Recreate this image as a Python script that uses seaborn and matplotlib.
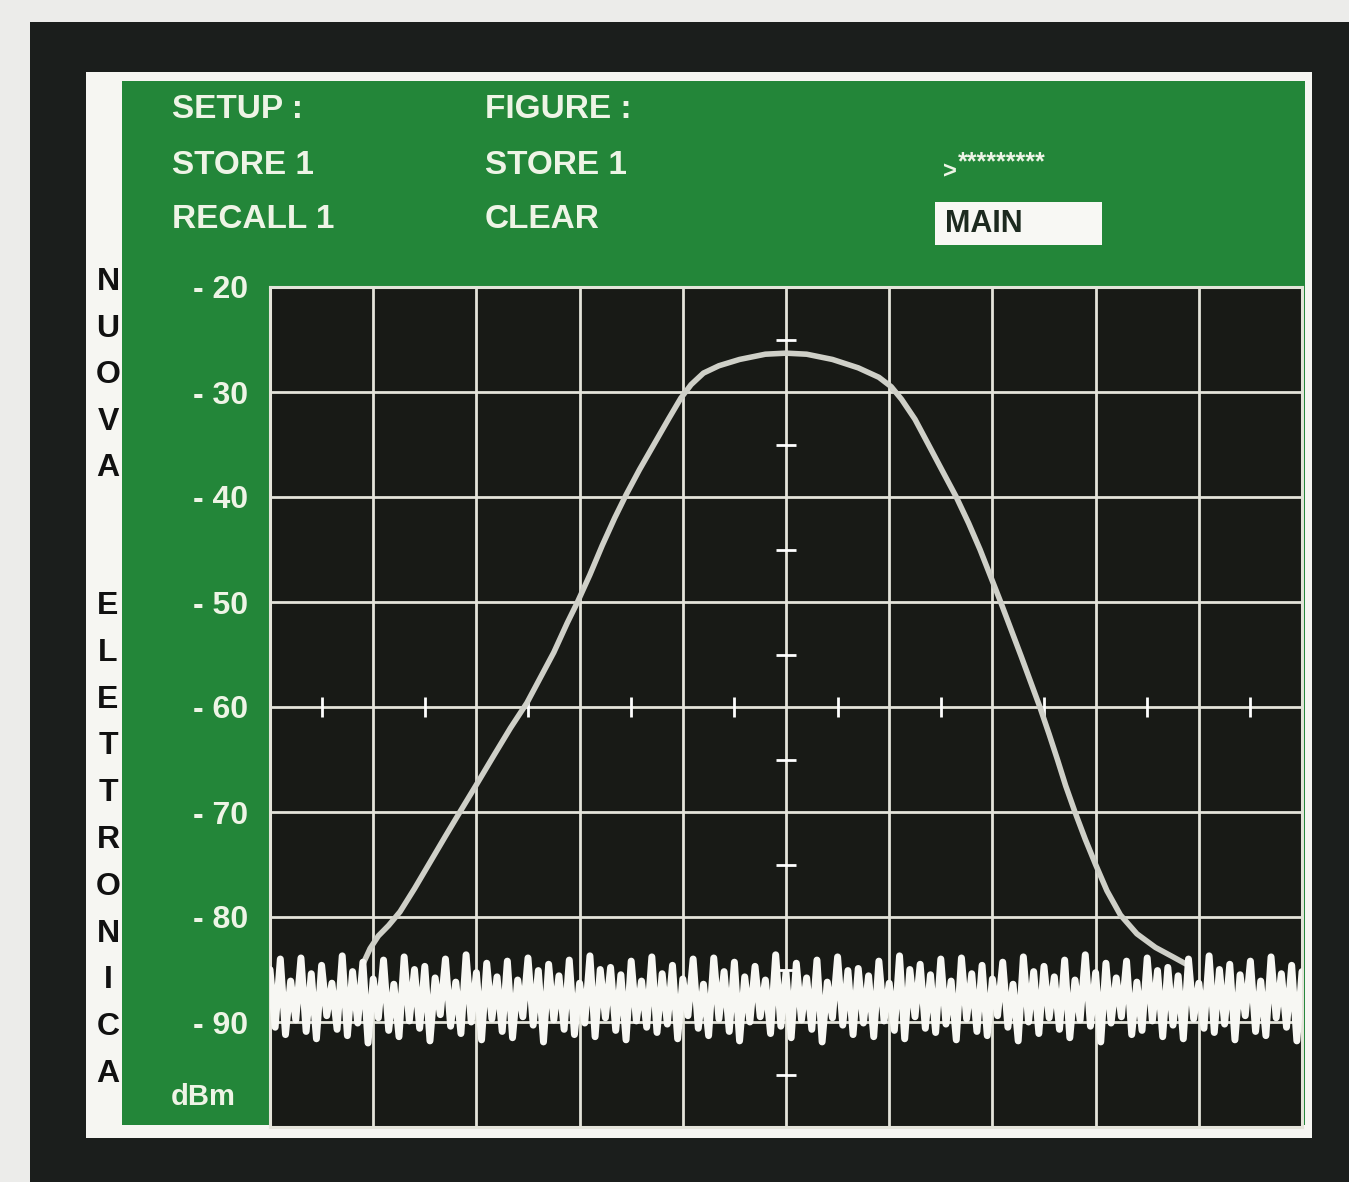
import numpy as np
import pandas as pd
import matplotlib
matplotlib.use("Agg")
import matplotlib.pyplot as plt
from matplotlib.patches import Rectangle
import seaborn as sns

# ---------------- data ----------------
y_ticks = [-100, -90, -80, -70, -60, -50, -40, -30, -20]
y_tick_labels = ["", "- 90", "- 80", "- 70", "- 60", "- 50", "- 40", "- 30", "- 20"]
x_divisions = [0, 1, 2, 3, 4, 5, 6, 7, 8, 9, 10]

# graticule minor marks on the centre lines
centre_h_marks_x = [0.5, 1.5, 2.5, 3.5, 4.5, 5.5, 6.5, 7.5, 8.5, 9.5]
centre_v_marks_y = [-25, -35, -45, -55, -65, -75, -85, -95]

# signal trace (divisions, dBm)
signal_x = [0.90, 0.97, 1.05, 1.15, 1.26, 1.40, 1.55, 1.70, 1.84, 2.00, 2.17,
            2.33, 2.49, 2.62, 2.75, 2.88, 2.98, 3.10, 3.22, 3.34, 3.45, 3.58,
            3.72, 3.86, 3.98, 4.08, 4.20, 4.35, 4.55, 4.80, 5.00, 5.20, 5.45,
            5.70, 5.90, 6.02, 6.12, 6.25, 6.38, 6.52, 6.65, 6.77, 6.88, 6.98,
            7.08, 7.18, 7.28, 7.37, 7.46, 7.55, 7.63, 7.71, 7.80, 7.90, 8.00,
            8.11, 8.24, 8.40, 8.58, 8.75, 8.88]
signal_y = [-84.5, -83.0, -81.8, -80.8, -79.5, -77.3, -74.8, -72.3, -70.0, -67.4, -64.6,
            -62.0, -59.6, -57.2, -54.8, -52.0, -50.0, -47.4, -44.6, -42.0, -39.8, -37.4,
            -35.0, -32.6, -30.6, -29.3, -28.2, -27.5, -26.9, -26.4, -26.3, -26.4, -26.9,
            -27.7, -28.6, -29.5, -30.7, -32.6, -35.0, -37.6, -40.0, -42.5, -45.0, -47.5,
            -50.0, -52.6, -55.2, -57.6, -60.0, -62.6, -65.0, -67.5, -70.0, -72.6, -75.0,
            -77.5, -79.8, -81.6, -82.9, -83.8, -84.5]

# noise floor trace (201 samples across the 10 divisions, dBm)
noise_y = [
    -85.0, -90.5, -84.0, -91.2, -86.1, -89.8, -83.9, -90.9, -85.4, -91.6,
    -84.6, -89.4, -86.3, -90.7, -83.7, -91.3, -85.2, -90.1, -84.3, -92.0,
    -85.9, -89.6, -84.1, -90.8, -86.4, -91.4, -83.8, -89.9, -85.0, -90.6,
    -84.7, -91.8, -85.8, -89.3, -84.0, -90.4, -86.2, -91.1, -83.6, -90.0,
    -85.3, -91.7, -84.4, -89.7, -85.7, -90.9, -84.2, -91.5, -86.0, -89.5,
    -83.9, -90.3, -85.1, -91.9, -84.5, -89.8, -85.6, -90.7, -84.1, -91.2,
    -86.3, -90.1, -83.7, -91.4, -85.0, -89.6, -84.8, -90.8, -85.5, -91.7,
    -84.2, -89.9, -86.1, -90.5, -83.8, -91.0, -85.4, -90.2, -84.6, -91.6,
    -85.9, -89.4, -84.0, -90.6, -86.4, -91.3, -83.9, -89.7, -85.2, -90.9,
    -84.3, -91.8, -85.7, -90.0, -84.7, -89.5, -86.0, -91.1, -83.6, -90.4,
    -85.3, -91.5, -84.4, -89.8, -85.8, -90.7, -84.1, -91.9, -86.2, -89.6,
    -83.8, -90.3, -85.1, -91.2, -84.9, -90.1, -85.6, -91.4, -84.2, -89.9,
    -86.3, -90.8, -83.7, -91.6, -85.0, -89.5, -84.5, -90.6, -85.5, -91.0,
    -84.0, -90.2, -86.1, -91.7, -83.9, -89.7, -85.4, -90.9, -84.6, -91.3,
    -85.9, -89.4, -84.3, -90.5, -86.4, -91.8, -83.8, -90.0, -85.2, -91.1,
    -84.7, -89.6, -85.7, -90.7, -84.1, -91.5, -86.0, -89.8, -83.6, -90.4,
    -85.3, -91.9, -84.4, -90.1, -85.8, -89.5, -84.2, -91.2, -86.2, -90.8,
    -83.9, -89.9, -85.1, -91.4, -84.8, -90.3, -85.6, -91.6, -84.0, -89.7,
    -86.3, -90.6, -83.7, -91.0, -85.0, -90.2, -84.5, -91.7, -85.5, -89.4,
    -84.2, -90.9, -86.1, -91.3, -83.8, -89.6, -85.4, -90.5, -84.6, -91.8,
    -85.2,
]
noise_x = np.linspace(0, 10, len(noise_y))

header_left = ["SETUP :", "STORE 1", "RECALL 1"]
header_mid = ["FIGURE :", "STORE 1", "CLEAR"]
side_word_1 = "NUOVA"
side_word_2 = "ELETTRONICA"

# ---------------- style ----------------
sns.set_theme(style="dark")
plt.rcParams["font.family"] = ["Liberation Sans", "DejaVu Sans"]

W, H = 1349, 1182
GREEN = "#238639"
PANEL_TEXT = "#eef4e6"
SCREEN = "#181a16"
GRID = "#e4e4da"

fig = plt.figure(figsize=(W / 100, H / 100), dpi=100, facecolor="#ececea")


def fx(x):
    return x / W


def fy(y):
    return 1 - y / H


def rect(x0, y0, x1, y1, color, z):
    fig.add_artist(Rectangle((fx(x0), fy(y1)), fx(x1) - fx(x0), fy(y0) - fy(y1),
                             transform=fig.transFigure, facecolor=color,
                             edgecolor="none", zorder=z))


# bezel, white frame, green panel
rect(30, 22, 1349, 1182, "#1b1e1c", -10)
rect(86, 72, 1312, 1138, "#f6f6f2", -9)
rect(122, 81, 1305, 1125, GREEN, -8)
# MAIN box
rect(935, 202, 1102, 245, "#f8f8f4", -7)

# ---------------- main graticule axes ----------------
ax = fig.add_axes([fx(270), fy(1127), fx(1302) - fx(270), fy(287) - fy(1127)])
ax.set_facecolor(SCREEN)
ax.set_xlim(0, 10)
ax.set_ylim(-100, -20)
ax.set_xticks(x_divisions)
ax.set_yticks(y_ticks)
ax.set_yticklabels(y_tick_labels)
ax.tick_params(axis="x", length=0, labelbottom=False)
ax.tick_params(axis="y", length=0, pad=16, labelsize=23, labelcolor=PANEL_TEXT)
for lab in ax.get_yticklabels():
    lab.set_fontweight("bold")
ax.grid(True, color=GRID, linewidth=2.0)
for s in ax.spines.values():
    s.set_visible(True)
    s.set_color(GRID)
    s.set_linewidth(2.2)

# centre-line minor marks
sns.lineplot(x=centre_h_marks_x, y=[-60] * len(centre_h_marks_x), ax=ax,
             linestyle="none", marker="|", markersize=14, markeredgewidth=2,
             color=GRID, zorder=2.5)
sns.lineplot(x=[5] * len(centre_v_marks_y), y=centre_v_marks_y, ax=ax,
             linestyle="none", marker="_", markersize=14, markeredgewidth=2,
             color=GRID, zorder=2.5, orient="y")

# signal and noise traces
sns.lineplot(x=signal_x, y=signal_y, ax=ax, color="#cfd0c8", linewidth=4.0,
             zorder=3, sort=False)
sns.lineplot(x=noise_x, y=noise_y, ax=ax, color="#f7f7f3", linewidth=5.0, zorder=4)
ax.set_xlabel("")
ax.set_ylabel("")

# ---------------- panel texts ----------------
rows_y = [110, 165, 220]
for t, yy in zip(header_left, rows_y):
    fig.text(fx(172), fy(yy), t, color=PANEL_TEXT, fontsize=24, fontweight="bold",
             ha="left", va="center")
for t, yy in zip(header_mid, rows_y):
    fig.text(fx(485), fy(yy), t, color=PANEL_TEXT, fontsize=24, fontweight="bold",
             ha="left", va="center")
fig.text(fx(943), fy(172), ">", color=PANEL_TEXT, fontsize=17, fontweight="bold",
         ha="left", va="center")
fig.text(fx(958), fy(162), "*********", color=PANEL_TEXT, fontsize=18, fontweight="bold",
         ha="left", va="center")
fig.text(fx(945), fy(224), "MAIN", color="#1d2a1f", fontsize=22, fontweight="bold",
         ha="left", va="center")
fig.text(fx(203), fy(1097), "dBm", color=PANEL_TEXT, fontsize=21, fontweight="bold",
         ha="center", va="center")

# vertical brand letters
for i, ch in enumerate(side_word_1):
    fig.text(fx(108), fy(282 + 46.6 * i), ch, color="#111111", fontsize=23,
             fontweight="bold", ha="center", va="center")
for i, ch in enumerate(side_word_2):
    fig.text(fx(108), fy(606 + 46.8 * i), ch, color="#111111", fontsize=23,
             fontweight="bold", ha="center", va="center")

fig.savefig("out.png", dpi=100, facecolor=fig.get_facecolor())
